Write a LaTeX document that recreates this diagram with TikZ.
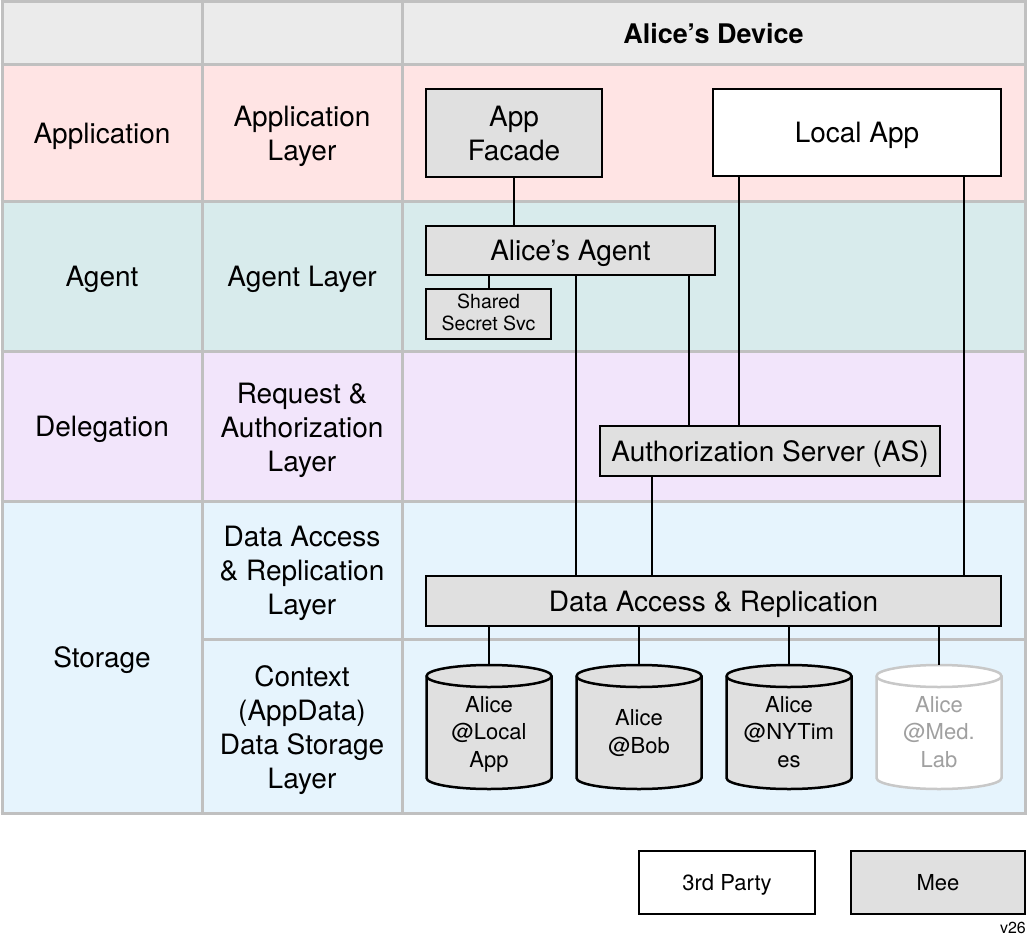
\documentclass[tikz,border=0pt]{standalone}
\usepackage{fontspec}
\setmainfont{TeX Gyre Heros}
\definecolor{gridgray}{HTML}{C0C0C0}
\definecolor{hdrgray}{HTML}{EBEBEB}
\definecolor{apppink}{HTML}{FFE4E4}
\definecolor{agentcyan}{HTML}{D8EBEC}
\definecolor{delegviolet}{HTML}{F2E5FB}
\definecolor{storeblue}{HTML}{E6F4FD}
\definecolor{boxgray}{HTML}{E0E0E0}
\definecolor{fadeline}{HTML}{C8C8C8}
\definecolor{fadetext}{HTML}{A0A0A0}
\newcommand\bigtxt{\fontsize{28}{34}\selectfont}
\newcommand\hdrtxt{\fontsize{27}{32}\selectfont\bfseries}
\newcommand\cyltxt{\fontsize{22}{27.5}\selectfont}
\newcommand\smtxt{\fontsize{19.5}{22}\selectfont}
\newcommand\legtxt{\fontsize{22}{26}\selectfont}
\newcommand\vtxt{\fontsize{16}{18}\selectfont}
\newcommand\drawcyl[2]{%
  \path[#2] (#1-62.5,676) -- (#1-62.5,778)
    arc[start angle=180,end angle=360,x radius=62.5pt,y radius=11pt]
    -- (#1+62.5,676)
    arc[start angle=0,end angle=180,x radius=62.5pt,y radius=11pt] -- cycle;
  \path[#2,fill=none] (#1-62.5,676)
    arc[start angle=180,end angle=360,x radius=62.5pt,y radius=11pt];}
\begin{document}
\begin{tikzpicture}[x=1pt,y=-1pt,
  gridline/.style={draw=gridgray,line width=3pt},
  lbl/.style={font=\bigtxt,align=center,text=black,inner sep=0pt,text depth=0pt},
  box/.style={draw=black,line width=2.5pt,fill=boxgray,inner sep=0pt,align=center,font=\bigtxt,text depth=0pt},
  wbox/.style={box,fill=white},
  conn/.style={draw=black,line width=2.5pt},
  cylshape/.style={draw=none,fill=none,inner sep=0pt,minimum width=125pt,minimum height=124pt},
  cyldraw/.style={draw=black,fill=boxgray,line width=2.5pt},
  cylfade/.style={draw=fadeline,fill=white,line width=2.5pt},
  cyltext/.style={font=\cyltxt,align=center,inner sep=0pt,text depth=0pt}]
\useasboundingbox (0,0) rectangle (1027,941);
\fill[white] (0,0) rectangle (1027,941);
% row fills
\fill[hdrgray] (2,2) rectangle (1025,65);
\fill[apppink] (2,65) rectangle (1025,202);
\fill[agentcyan] (2,202) rectangle (1025,351);
\fill[delegviolet] (2,351) rectangle (1025,501);
\fill[storeblue] (2,501) rectangle (1025,813);
% grid lines
\foreach \yy in {2,65,202,351,501,813} \draw[gridline] (0.5,\yy) -- (1026.5,\yy);
\draw[gridline] (202,639) -- (1026.5,639);
\foreach \xx in {2,202,402,1025} \draw[gridline] (\xx,0.5) -- (\xx,814.5);
% header
\node[lbl,font=\hdrtxt] (hdr) at (713.5,33.5) {Alice’s Device};
% column labels
\node[lbl] (l1app) at (102,133.5) {Application};
\node[lbl] (l2app) at (302,133.5) {Application\\Layer};
\node[lbl] (l1ag) at (102,276.5) {Agent};
\node[lbl] (l2ag) at (302,276.5) {Agent Layer};
\node[lbl] (l1del) at (102,426.5) {Delegation};
\node[lbl] (l2del) at (302,427) {Request \&\\Authorization\\Layer};
\node[lbl] (l1st) at (102,657) {Storage};
\node[lbl] (l2da) at (302,570) {Data Access\\\& Replication\\Layer};
\node[lbl] (l2ctx) at (302,727.5) {Context\\(AppData)\\Data Storage\\Layer};
% main boxes
\node[box,minimum width=176pt,minimum height=88pt] (af) at (514,133) {App\\Facade};
\node[wbox,minimum width=288pt,minimum height=87pt] (la) at (857,132.5) {Local App};
\node[box,minimum width=289pt,minimum height=49pt] (ag) at (570.5,250.5) {Alice’s Agent};
\node[box,minimum width=125pt,minimum height=50pt,font=\smtxt,text depth=4pt] (ss) at (488.5,314) {Shared\\Secret Svc};
\node[box,minimum width=340pt,minimum height=50pt] (as) at (770,451) {Authorization Server (AS)};
\node[box,minimum width=575pt,minimum height=50pt] (da) at (713.5,601) {Data Access \& Replication};
% cylinders
\drawcyl{489}{cyldraw}
\drawcyl{639}{cyldraw}
\drawcyl{789}{cyldraw}
\drawcyl{939}{cylfade}
\node[cylshape] (s1) at (489,727) {};
\node[cylshape] (s2) at (639,727) {};
\node[cylshape] (s3) at (789,727) {};
\node[cylshape] (s4) at (939,727) {};
\node[cyltext] (s1t) at (489,731.5) {Alice\\@Local\\App};
\node[cyltext] (s2t) at (639,731.5) {Alice\\@Bob};
\node[cyltext] (s3t) at (789,731.5) {Alice\\@NYTim\\es};
\node[cyltext,text=fadetext] (s4t) at (939,731.5) {Alice\\@Med.\\Lab};
% legend
\node[wbox,font=\legtxt,minimum width=176pt,minimum height=63pt] (tp) at (727,882.5) {3rd Party};
\node[box,font=\legtxt,minimum width=174pt,minimum height=63pt] (mee) at (938,882.5) {Mee};
\node[font=\vtxt,inner sep=0pt,anchor=east] (ver) at (1026,928) {v26};
% connector columns
\coordinate (xa) at (489,0);
\coordinate (xb) at (576,0);
\coordinate (xc) at (689,0);
\coordinate (xd) at (739,0);
\coordinate (xe) at (964,0);
\coordinate (xf) at (652,0);
% connectors
\draw[conn] (af.south) -- (af.south |- ag.north);
\draw[conn] (xa |- ag.south) -- (xa |- ss.north);
\draw[conn] (xb |- ag.south) -- (xb |- da.north);
\draw[conn] (xc |- ag.south) -- (xc |- as.north);
\draw[conn] (xd |- la.south) -- (xd |- as.north);
\draw[conn] (xe |- la.south) -- (xe |- da.north);
\draw[conn] (xf |- as.south) -- (xf |- da.north);
\draw[conn] (da.south -| s1.north) -- (s1.north);
\draw[conn] (da.south -| s2.north) -- (s2.north);
\draw[conn] (da.south -| s3.north) -- (s3.north);
\draw[conn] (da.south -| s4.north) -- (s4.north);
\end{tikzpicture}
\end{document}
